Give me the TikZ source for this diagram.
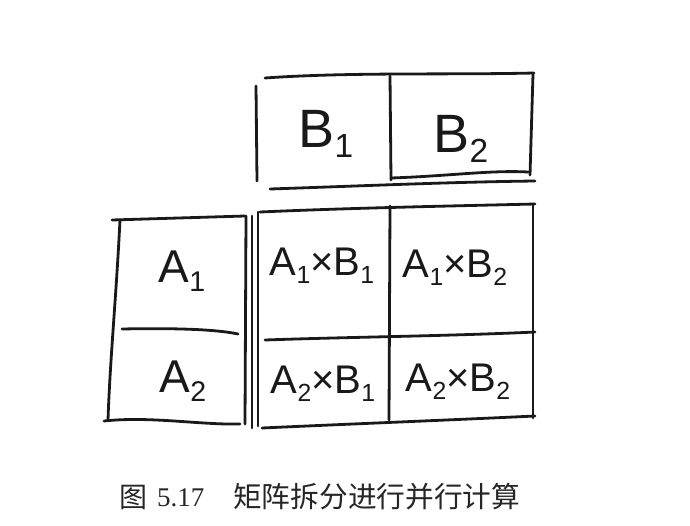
\documentclass[tikz,border=0pt]{standalone}
\usepackage{fontspec}
\setmainfont{Liberation Serif}
\newfontfamily\hand{Liberation Sans}
\newfontfamily\cjk{Noto Sans CJK SC}
\newcommand{\sbs}[1]{\raisebox{-0.2em}{\fontsize{0.62em}{0.62em}\selectfont #1}}
\tikzset{
  ink/.style={line width=2.8pt, draw=black!90, line cap=round, line join=round},
  big/.style={font=\hand\fontsize{54}{54}\selectfont, inner sep=0pt, text=black!90},
  mid/.style={font=\hand\fontsize{46}{46}\selectfont, inner sep=0pt, text=black!90},
  cell/.style={font=\hand\fontsize{40}{40}\selectfont, inner sep=0pt, text=black!90},
  captext/.style={font=\fontsize{27}{27}\selectfont, inner sep=0pt, text=black!85},
}
\begin{document}
\begin{tikzpicture}[x=1pt,y=-1pt]
\useasboundingbox[fill=white] (0,0) rectangle (690,525);
% B box
\draw[ink] (265,78) .. controls (350,72) and (450,75) .. (534,73);
\draw[ink] (256,86) -- (257,181);
\draw[ink] (390,76) -- (391,180);
\draw[ink] (533,74) -- (530,175);
\draw[ink] (391,178) .. controls (450,176) and (490,170) .. (528,172);
\draw[ink] (270,189) .. controls (360,186) and (450,182) .. (535,181);
% A box
\draw[ink] (112,220) -- (245,216);
\draw[ink] (120,220) .. controls (116,300) and (110,360) .. (108,420);
\draw[ink] (246,216) -- (245,424);
\draw[ink] (122,329) .. controls (170,328) and (215,329) .. (238,334);
\draw[ink] (104,421) .. controls (150,416) and (200,425) .. (240,424);
% double line
\draw[ink] (252,216) -- (252,428);
\draw[ink] (258,212) -- (258,426);
% grid
\draw[ink] (260,212) .. controls (350,208) and (450,206) .. (535,204);
\draw[ink] (533,205) -- (533,418);
\draw[ink] (390,206) -- (389,420);
\draw[ink] (265,340) .. controls (350,337) and (450,336) .. (535,332);
\draw[ink] (262,428) .. controls (350,424) and (450,420) .. (535,416);
% texts
\node[big] (b1) at (326,134) {B\sbs{1}};
\node[big] (b2) at (461,139) {B\sbs{2}};
\node[mid] (a1) at (182,271) {A\sbs{1}};
\node[mid] (a2) at (183,381) {A\sbs{2}};
\node[cell] (c11) at (322,266) {A\sbs{1}×B\sbs{1}};
\node[cell] (c12) at (455,268) {A\sbs{1}×B\sbs{2}};
\node[cell] (c21) at (323,384) {A\sbs{2}×B\sbs{1}};
\node[cell] (c22) at (458,382) {A\sbs{2}×B\sbs{2}};
% caption
\node[captext, font=\cjk\fontsize{28}{28}\selectfont] (t1) at (133,497) {图};
\node[captext, anchor=west] (t2) at (157,498) {5.17};
\node[captext, anchor=west, font=\cjk\fontsize{28.7}{28.7}\selectfont] (t3) at (233,497) {矩阵拆分进行并行计算};
\end{tikzpicture}
\end{document}
